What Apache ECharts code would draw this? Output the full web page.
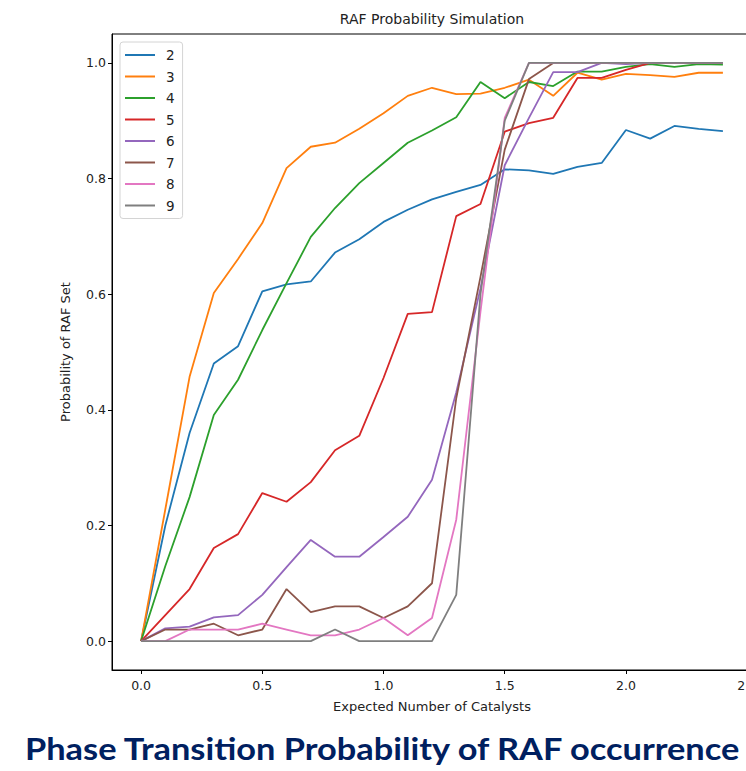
<!DOCTYPE html>
<html>
<head>
<meta charset="utf-8">
<script src="https://cdn.jsdelivr.net/npm/echarts@6/dist/echarts.min.js"></script>
<style>
html,body{margin:0;padding:0;background:#fff;}
#chart{width:746px;height:771px;}
</style>
</head>
<body>
<div id="chart"></div>
<script>
// x positions (expected number of catalysts)
const xValues = [0.0, 0.1, 0.2, 0.3, 0.4, 0.5, 0.6, 0.7, 0.8, 0.9, 1.0, 1.1, 1.2,
                 1.3, 1.4, 1.5, 1.6, 1.7, 1.8, 1.9, 2.0, 2.1, 2.2, 2.3, 2.4];
const seriesNames = ['2', '3', '4', '5', '6', '7', '8', '9'];
const s2 = [0, 0.20, 0.36, 0.48, 0.51, 0.605, 0.617, 0.622, 0.672, 0.695, 0.725, 0.746, 0.764,
            0.777, 0.789, 0.816, 0.814, 0.808, 0.820, 0.827, 0.884, 0.869, 0.891, 0.886, 0.882];
const s3 = [0, 0.228, 0.457, 0.602, 0.661, 0.723, 0.818, 0.855, 0.862, 0.886, 0.913, 0.943, 0.957,
            0.946, 0.947, 0.957, 0.971, 0.943, 0.983, 0.971, 0.981, 0.979, 0.976, 0.983, 0.983];
const s4 = [0, 0.13, 0.249, 0.391, 0.452, 0.538, 0.619, 0.699, 0.749, 0.792, 0.827, 0.862, 0.883,
            0.906, 0.967, 0.939, 0.967, 0.960, 0.985, 0.985, 0.993, 0.998, 0.993, 0.998, 0.997];
const s5 = [0, 0.045, 0.09, 0.161, 0.185, 0.256, 0.241, 0.275, 0.330, 0.355, 0.455, 0.566, 0.569,
            0.735, 0.756, 0.881, 0.896, 0.905, 0.974, 0.974, 0.988, 1.0, 1.0, 1.0, 1.0];
const s6 = [0, 0.022, 0.025, 0.041, 0.045, 0.08, 0.128, 0.175, 0.146, 0.146, 0.18, 0.215, 0.279,
            0.43, 0.61, 0.823, 0.905, 0.984, 0.984, 1.0, 0.998, 1.0, 1.0, 1.0, 1.0];
const s7 = [0, 0.02, 0.02, 0.03, 0.01, 0.02, 0.09, 0.05, 0.06, 0.06, 0.04, 0.06, 0.10,
            0.42, 0.63, 0.85, 0.972, 1.0, 1.0, 1.0, 1.0, 1.0, 1.0, 1.0, 1.0];
const s8 = [0, 0, 0.02, 0.02, 0.02, 0.03, 0.02, 0.01, 0.01, 0.02, 0.04, 0.01, 0.04,
            0.21, 0.57, 0.905, 1.0, 1.0, 1.0, 1.0, 1.0, 1.0, 1.0, 1.0, 1.0];
const s9 = [0, 0, 0, 0, 0, 0, 0, 0, 0.02, 0, 0, 0, 0,
            0.08, 0.60, 0.90, 1.0, 1.0, 1.0, 1.0, 1.0, 1.0, 1.0, 1.0, 1.0];
const xTicks = [0.0, 0.5, 1.0, 1.5, 2.0, 2.5];
const yTicks = [0.0, 0.2, 0.4, 0.6, 0.8, 1.0];

const allSeries = [s2, s3, s4, s5, s6, s7, s8, s9];
const colors = ['#1f77b4', '#ff7f0e', '#2ca02c', '#d62728', '#9467bd', '#8c564b', '#e377c2', '#7f7f7f'];

const chart = echarts.init(document.getElementById('chart'), null, {renderer: 'svg'});

// caption width fitting
const captionText = 'Phase Transition Probability of RAF occurrence';
const capFont = 'bold 31px Lato';
const cv = document.createElement('canvas').getContext('2d');
cv.font = capFont;
const capW = cv.measureText(captionText).width || 718;
const capScale = 718 / capW;

const tickFont = 'DejaVu Sans';

const option = {
  animation: false,
  backgroundColor: '#ffffff',
  color: colors,
  grid: {left: 112, top: 34, width: 640, height: 636, outerBoundsMode: 'none', containLabel: false,
         show: true, borderColor: '#000', borderWidth: 1, backgroundColor: 'transparent'},
  legend: {
    orient: 'vertical', left: 120, top: 42,
    data: seriesNames,
    icon: 'rect', itemWidth: 30, itemHeight: 2, itemGap: 7.5,
    padding: [6, 8, 6, 5],
    borderColor: '#d4d4d4', borderWidth: 1, borderRadius: 3, backgroundColor: '#fff',
    textStyle: {fontSize: 13.5, color: '#222', fontFamily: tickFont, lineHeight: 14, padding: [0, 0, 0, 6]}
  },
  xAxis: {
    type: 'value', min: -0.12, max: 2.52,
    axisLine: {show: true, onZero: false, lineStyle: {color: '#000', width: 1}},
    axisTick: {show: true, customValues: xTicks, length: 4, lineStyle: {color: '#000'}},
    axisLabel: {customValues: xTicks, formatter: v => v.toFixed(1), fontSize: 12.5, color: '#222', margin: 9, fontFamily: tickFont},
    splitLine: {show: false},
    name: 'Expected Number of Catalysts', nameLocation: 'middle', nameGap: 30,
    nameTextStyle: {fontSize: 13, color: '#222', fontFamily: tickFont}
  },
  yAxis: {
    type: 'value', min: -0.05, max: 1.05,
    axisLine: {show: true, onZero: false, lineStyle: {color: '#000', width: 1}},
    axisTick: {show: true, customValues: yTicks, length: 4, lineStyle: {color: '#000'}},
    axisLabel: {customValues: yTicks, formatter: v => v.toFixed(1), fontSize: 12.5, color: '#222', margin: 6, fontFamily: tickFont},
    splitLine: {show: false},
    name: 'Probability of RAF Set', nameLocation: 'middle', nameGap: 40, nameRotate: 90,
    nameTextStyle: {fontSize: 13, color: '#222', fontFamily: tickFont}
  },
  graphic: [
    {type: 'text', x: 432, y: 19, style: {text: 'RAF Probability Simulation', align: 'center', verticalAlign: 'middle', font: '14px "DejaVu Sans"', fill: '#222'}},
    {type: 'text', x: 25, y: 748, scaleX: capScale, style: {text: captionText, align: 'left', verticalAlign: 'middle', font: capFont, fill: '#002060'}}
  ],
  series: allSeries.map((arr, i) => ({
    name: seriesNames[i],
    type: 'line',
    symbol: 'none',
    lineStyle: {width: 1.8, color: colors[i]},
    itemStyle: {color: colors[i]},
    data: xValues.map((x, j) => [x, arr[j]])
  }))
};
chart.setOption(option);
</script>
</body>
</html>
